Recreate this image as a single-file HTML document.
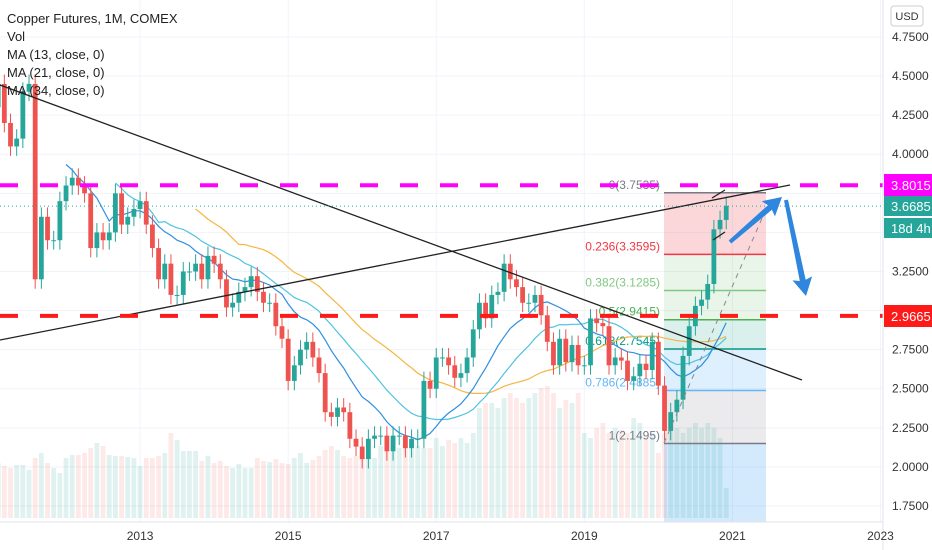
<!DOCTYPE html>
<html><head><meta charset="utf-8"><style>
body{margin:0;background:#fff;font-family:"Liberation Sans",sans-serif}
#wrap{position:relative;width:932px;height:550px;overflow:hidden}
svg text{font-family:"Liberation Sans",sans-serif}
</style></head><body>
<div id="wrap">
<svg id="c" width="932" height="550"></svg>
</div>
<script>
const years=["2013","2015","2017","2019","2021","2023"];
const yearIdx=[24,48,72,96,120,144];
const priceTicks=[4.75,4.5,4.25,4.0,3.75,3.5,3.25,3.0,2.75,2.5,2.25,2.0,1.75];
const closes=[4.30,4.45,4.20,4.05,4.10,4.40,4.45,3.20,3.60,3.45,3.45,3.70,
3.80,3.85,3.80,3.75,3.40,3.50,3.45,3.50,3.75,3.55,3.60,3.65,
3.70,3.55,3.40,3.20,3.30,3.10,3.10,3.25,3.25,3.30,3.20,3.35,
3.30,3.20,3.02,3.05,3.12,3.15,3.22,3.12,3.05,3.05,2.90,2.82,
2.55,2.65,2.75,2.80,2.70,2.60,2.35,2.32,2.38,2.35,2.18,2.13,
2.05,2.18,2.20,2.20,2.10,2.20,2.20,2.12,2.18,2.18,2.55,2.50,
2.70,2.70,2.65,2.57,2.60,2.70,2.88,3.05,2.95,3.10,3.12,3.30,
3.20,3.15,3.05,3.05,3.10,2.97,2.80,2.65,2.82,2.67,2.78,2.65,
2.65,2.95,2.92,2.90,2.65,2.70,2.68,2.55,2.58,2.66,2.62,2.80,
2.52,2.23,2.35,2.43,2.71,2.90,3.03,3.07,3.17,3.52,3.58,3.67];
const volumes=[50,55,52,50,53,53,48,60,65,55,50,45,
60,63,63,65,70,75,72,63,62,62,61,60,
52,60,60,62,65,85,78,67,67,67,57,62,
55,57,52,50,54,50,50,60,57,56,59,55,
54,60,65,55,58,62,68,72,68,62,60,62,
63,60,60,72,75,70,70,75,75,72,70,70,
80,72,78,75,80,75,85,110,115,115,110,120,
125,120,115,120,125,130,132,125,110,118,115,125,
85,80,90,95,85,90,88,85,100,95,80,85,
65,85,95,90,85,90,95,90,95,90,80,30];
const fibLevels=[0,0.236,0.382,0.5,0.618,0.786,1];
const fibPrices=[3.7535,3.3595,3.1285,2.9415,2.7545,2.4885,2.1495];
const resistance=3.8015, support=2.9665, lastPrice=3.6685;

const NS="http://www.w3.org/2000/svg";
const svg=document.getElementById('c');
const X0=-8, DX=6.17, plotR=883, plotB=522;
const xs=i=>X0+i*DX;
const ys=p=>37+(4.75-p)*156.33;
function el(t,a,p){const e=document.createElementNS(NS,t);for(const k in a)e.setAttribute(k,a[k]);(p||svg).appendChild(e);return e;}

priceTicks.forEach(p=>{const l=el('line',{x1:0,x2:plotR,y1:ys(p),y2:ys(p),stroke:'#f0f3fa'});

});
yearIdx.forEach(i=>{const l=el('line',{x1:xs(i),x2:xs(i),y1:0,y2:plotB,stroke:'#f0f3fa'});

});

const fx1=664,fx2=766;
const zoneCols=['rgba(242,54,69,0.2)','rgba(76,175,80,0.13)','rgba(76,175,80,0.13)','rgba(8,153,129,0.15)','rgba(33,150,243,0.15)','rgba(120,123,134,0.15)'];
const lineCols=['#787b86','#f23645','#81c784','#4caf50','#089981','#64b5f6','#787b86'];
for(let k=0;k<6;k++){const r=el('rect',{x:fx1,y:ys(fibPrices[k]),width:fx2-fx1,height:ys(fibPrices[k+1])-ys(fibPrices[k]),fill:zoneCols[k]});

}
{const r=el('rect',{x:fx1,y:ys(fibPrices[6]),width:fx2-fx1,height:plotB-ys(fibPrices[6]),fill:'rgba(33,150,243,0.2)'});

}

volumes.forEach((v,i)=>{const up=i===0||closes[i]>=closes[i-1];
const r=el('rect',{x:xs(i)-2.4,y:plotB-4-v,width:4.8,height:v,fill:up?'rgba(38,166,154,0.15)':'rgba(239,83,80,0.13)'});

});

fibLevels.forEach((f,k)=>{const y=ys(fibPrices[k]);
const l=el('line',{x1:fx1,x2:fx2,y1:y,y2:y,stroke:lineCols[k],'stroke-width':1.5});


const t=el('text',{x:fx1-4,y:y-4,'text-anchor':'end','font-size':12,fill:lineCols[k]});
t.textContent=f+'('+fibPrices[k].toFixed(4)+')';

});

function ma(n,col,name){let d='';closes.forEach((c,i)=>{if(i<n-1)return;let s=0;for(let j=i-n+1;j<=i;j++)s+=closes[j];d+=(d?'L':'M')+xs(i).toFixed(1)+','+ys(s/n).toFixed(1);});
const p=el('path',{d:d,fill:'none',stroke:col,'stroke-width':1.2});

}
ma(34,'#f5b642','ma-34-line');ma(21,'#4fc3e0','ma-21-line');ma(13,'#2f8fe0','ma-13-line');

closes.forEach((c,i)=>{if(i===0)return;const o=closes[i-1];const up=c>=o;const col=up?'#26a69a':'#ef5350';
const hi=Math.max(o,c)+0.06,lo=Math.min(o,c)-0.06;
const w=el('line',{x1:xs(i),x2:xs(i),y1:ys(hi),y2:ys(lo),stroke:col,'stroke-width':1});


const b=el('rect',{x:xs(i)-2.4,y:ys(Math.max(o,c)),width:4.8,height:Math.max(1,Math.abs(ys(o)-ys(c))),fill:col});

});

[[0,85,802,380,'descending-trendline'],[0,340,790,185,'ascending-trendline'],[712,198,725,190,'channel-line'],[713,240,725,232,'channel-line']].forEach(a=>{
const l=el('line',{x1:a[0],y1:a[1],x2:a[2],y2:a[3],stroke:'#222','stroke-width':1.3});

});
{const l=el('line',{x1:664,y1:443,x2:770,y2:200,stroke:'#888','stroke-width':1,'stroke-dasharray':'5,5'});

}

{const l=el('line',{x1:0,x2:plotR,y1:ys(resistance),y2:ys(resistance),stroke:'#ff00ff','stroke-width':4,'stroke-dasharray':'18,22'});

}
{const l=el('line',{x1:0,x2:plotR,y1:ys(support),y2:ys(support),stroke:'#ff1a1a','stroke-width':4,'stroke-dasharray':'18,22'});

}
{const l=el('line',{x1:0,x2:plotR,y1:ys(lastPrice),y2:ys(lastPrice),stroke:'#26a69a','stroke-width':1,'stroke-dasharray':'1,3'});

}

function arrow(x1,y1,x2,y2,name){const a=Math.atan2(y2-y1,x2-x1),L=Math.hypot(x2-x1,y2-y1);
const g=el('g',{transform:`translate(${x1},${y1}) rotate(${a*180/Math.PI})`,fill:'#2e86de'});


el('polygon',{points:`0,-2 ${L-16},-3 ${L-18},-10 ${L},0 ${L-18},10 ${L-16},3 0,2`},g);}
arrow(730,242,782,197,'up-arrow');arrow(786,200,806,296,'down-arrow');

{const l=el('line',{x1:plotR,x2:plotR,y1:0,y2:550,stroke:'#e0e3eb'});


const l2=el('line',{x1:0,x2:plotR,y1:plotB,y2:plotB,stroke:'#e0e3eb'});

}
priceTicks.forEach(p=>{const t=el('text',{x:892,y:ys(p)+4,'font-size':12,fill:'#333'});
t.textContent=p.toFixed(4);

});
years.forEach((y,k)=>{const t=el('text',{x:xs(yearIdx[k]),y:540,'font-size':12,fill:'#333','text-anchor':'middle'});
t.textContent=y;

});

function tag(y,h,col,txt,name){const r=el('rect',{x:884,y:y,width:48,height:h,fill:col});


const t=el('text',{x:891,y:y+h/2+5,'font-size':13,fill:'#fff'});t.textContent=txt;

}
tag(174,22,'#ff00ff','3.8015','resistance-price-tag');
tag(196,20,'#26a69a','3.6685','last-price-tag');
tag(218,20,'#26a69a','18d 4h','countdown-tag');
tag(305,22,'#ff1a1a','2.9665','support-price-tag');
{const r=el('rect',{x:891,y:6,width:32,height:20,rx:3,fill:'#fff',stroke:'#ccc'});


const t=el('text',{x:907,y:20,'font-size':11,fill:'#333','text-anchor':'middle'});t.textContent='USD';

}

[['Copper Futures, 1M, COMEX',23,'chart-title'],['Vol',41,'legend-vol'],['MA (13, close, 0)',59,'legend-ma13'],['MA (21, close, 0)',77,'legend-ma21'],['MA (34, close, 0)',95,'legend-ma34']].forEach(a=>{
const t=el('text',{x:7,y:a[1],'font-size':13,fill:'#222'});t.textContent=a[0];

});
</script>
</body></html>
